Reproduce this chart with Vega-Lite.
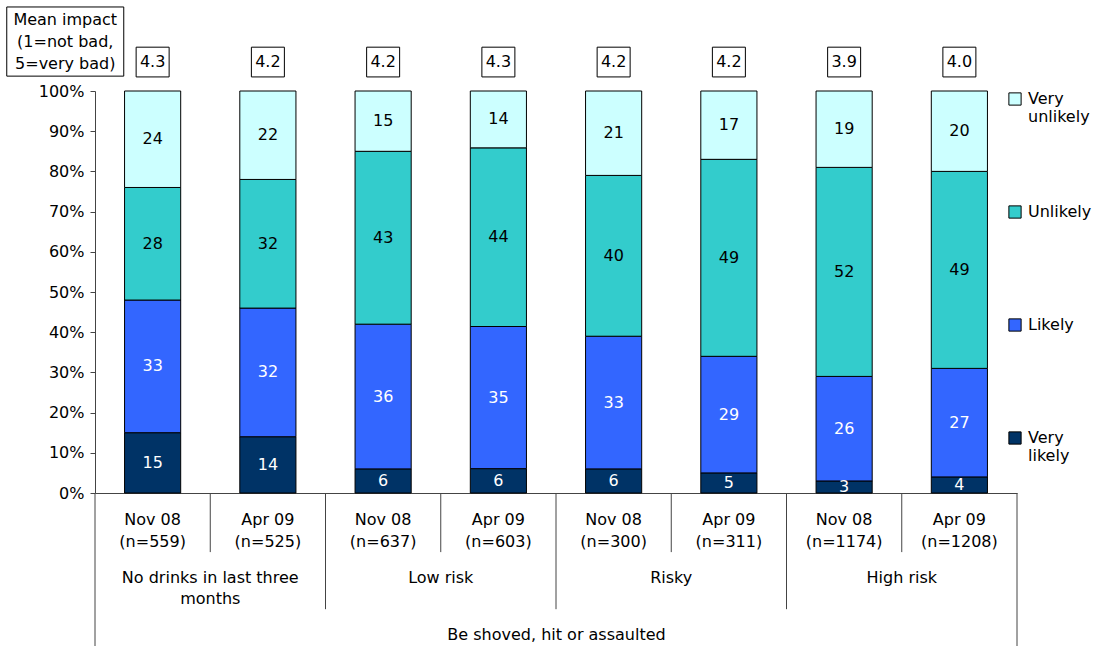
{
  "$schema": "https://vega.github.io/schema/vega-lite/v6.json",
  "width": 922,
  "height": 402,
  "autosize": {"type": "none"},
  "padding": {"left": 95, "top": 91, "right": 77, "bottom": 153},
  "background": "white",
  "config": {"font": "DejaVu Sans", "view": {"stroke": null}},
  "datasets": {
    "segs": [
      {"group": "No drinks in last three months", "period": "Nov 08", "cat": "Very likely", "ord": 1, "value": 15},
      {"group": "No drinks in last three months", "period": "Nov 08", "cat": "Likely", "ord": 2, "value": 33},
      {"group": "No drinks in last three months", "period": "Nov 08", "cat": "Unlikely", "ord": 3, "value": 28},
      {"group": "No drinks in last three months", "period": "Nov 08", "cat": "Very unlikely", "ord": 4, "value": 24},
      {"group": "No drinks in last three months", "period": "Apr 09", "cat": "Very likely", "ord": 1, "value": 14},
      {"group": "No drinks in last three months", "period": "Apr 09", "cat": "Likely", "ord": 2, "value": 32},
      {"group": "No drinks in last three months", "period": "Apr 09", "cat": "Unlikely", "ord": 3, "value": 32},
      {"group": "No drinks in last three months", "period": "Apr 09", "cat": "Very unlikely", "ord": 4, "value": 22},
      {"group": "Low risk", "period": "Nov 08", "cat": "Very likely", "ord": 1, "value": 6},
      {"group": "Low risk", "period": "Nov 08", "cat": "Likely", "ord": 2, "value": 36},
      {"group": "Low risk", "period": "Nov 08", "cat": "Unlikely", "ord": 3, "value": 43},
      {"group": "Low risk", "period": "Nov 08", "cat": "Very unlikely", "ord": 4, "value": 15},
      {"group": "Low risk", "period": "Apr 09", "cat": "Very likely", "ord": 1, "value": 6},
      {"group": "Low risk", "period": "Apr 09", "cat": "Likely", "ord": 2, "value": 35},
      {"group": "Low risk", "period": "Apr 09", "cat": "Unlikely", "ord": 3, "value": 44},
      {"group": "Low risk", "period": "Apr 09", "cat": "Very unlikely", "ord": 4, "value": 14},
      {"group": "Risky", "period": "Nov 08", "cat": "Very likely", "ord": 1, "value": 6},
      {"group": "Risky", "period": "Nov 08", "cat": "Likely", "ord": 2, "value": 33},
      {"group": "Risky", "period": "Nov 08", "cat": "Unlikely", "ord": 3, "value": 40},
      {"group": "Risky", "period": "Nov 08", "cat": "Very unlikely", "ord": 4, "value": 21},
      {"group": "Risky", "period": "Apr 09", "cat": "Very likely", "ord": 1, "value": 5},
      {"group": "Risky", "period": "Apr 09", "cat": "Likely", "ord": 2, "value": 29},
      {"group": "Risky", "period": "Apr 09", "cat": "Unlikely", "ord": 3, "value": 49},
      {"group": "Risky", "period": "Apr 09", "cat": "Very unlikely", "ord": 4, "value": 17},
      {"group": "High risk", "period": "Nov 08", "cat": "Very likely", "ord": 1, "value": 3},
      {"group": "High risk", "period": "Nov 08", "cat": "Likely", "ord": 2, "value": 26},
      {"group": "High risk", "period": "Nov 08", "cat": "Unlikely", "ord": 3, "value": 52},
      {"group": "High risk", "period": "Nov 08", "cat": "Very unlikely", "ord": 4, "value": 19},
      {"group": "High risk", "period": "Apr 09", "cat": "Very likely", "ord": 1, "value": 4},
      {"group": "High risk", "period": "Apr 09", "cat": "Likely", "ord": 2, "value": 27},
      {"group": "High risk", "period": "Apr 09", "cat": "Unlikely", "ord": 3, "value": 49},
      {"group": "High risk", "period": "Apr 09", "cat": "Very unlikely", "ord": 4, "value": 20}
    ],
    "bars": [
      {"group": "No drinks in last three months", "period": "Nov 08", "n": "(n=559)", "mean": "4.3"},
      {"group": "No drinks in last three months", "period": "Apr 09", "n": "(n=525)", "mean": "4.2"},
      {"group": "Low risk", "period": "Nov 08", "n": "(n=637)", "mean": "4.2"},
      {"group": "Low risk", "period": "Apr 09", "n": "(n=603)", "mean": "4.3"},
      {"group": "Risky", "period": "Nov 08", "n": "(n=300)", "mean": "4.2"},
      {"group": "Risky", "period": "Apr 09", "n": "(n=311)", "mean": "4.2"},
      {"group": "High risk", "period": "Nov 08", "n": "(n=1174)", "mean": "3.9"},
      {"group": "High risk", "period": "Apr 09", "n": "(n=1208)", "mean": "4.0"}
    ],
    "groups": [
      {"group": "No drinks in last three months"},
      {"group": "Low risk"},
      {"group": "Risky"},
      {"group": "High risk"}
    ]
  },
  "layer": [
    {
      "data": {"name": "segs"},
      "mark": {"type": "bar", "stroke": "black", "strokeWidth": 1},
      "encoding": {
        "x": {
          "field": "group", "type": "nominal",
          "sort": ["No drinks in last three months", "Low risk", "Risky", "High risk"],
          "scale": {"paddingInner": 0, "paddingOuter": 0},
          "axis": {
            "title": "Be shoved, hit or assaulted",
            "titleFontSize": 16, "titleFontWeight": "normal", "titleColor": "black", "titlePadding": 20,
            "ticks": false, "labelAngle": 0, "labelFontSize": 16, "labelColor": "black",
            "labelPadding": 76, "labelLineHeight": 21,
            "labelExpr": "datum.value == 'No drinks in last three months' ? ['No drinks in last three', 'months'] : datum.value",
            "domainColor": "#444", "domainWidth": 1
          }
        },
        "xOffset": {
          "field": "period", "type": "nominal", "sort": ["Nov 08", "Apr 09"],
          "scale": {"paddingInner": 0.513, "paddingOuter": 0.2565}
        },
        "y": {
          "field": "value", "type": "quantitative", "stack": "normalize",
          "scale": {"domain": [0, 1]},
          "axis": {
            "title": null, "format": ".0%", "values": [0, 0.1, 0.2, 0.3, 0.4, 0.5, 0.6, 0.7, 0.8, 0.9, 1],
            "grid": false, "tickSize": 5, "labelFontSize": 16, "labelColor": "black", "labelPadding": 6,
            "domainColor": "#444", "tickColor": "#444"
          }
        },
        "color": {
          "field": "cat", "type": "nominal",
          "scale": {
            "domain": ["Very unlikely", "Unlikely", "Likely", "Very likely"],
            "range": ["#CCFFFF", "#33CCCC", "#3366FF", "#003366"]
          },
          "legend": {
            "title": null, "orient": "none", "legendX": 912, "legendY": 0,
            "symbolType": "square", "symbolSize": 150, "symbolStrokeColor": "black", "symbolStrokeWidth": 1,
            "symbolOpacity": 1,
            "labelFontSize": 16, "labelColor": "black", "labelLimit": 200, "labelLineHeight": 20,
            "labelExpr": "datum.label == 'Very unlikely' ? ['Very', 'unlikely'] : datum.label == 'Very likely' ? ['Very', 'likely'] : [datum.label, ' ']",
            "rowPadding": 78, "labelOffset": 5
          }
        },
        "order": {"field": "ord", "type": "quantitative"}
      }
    },
    {
      "data": {"name": "segs"},
      "mark": {"type": "text", "fontSize": 16, "baseline": "middle"},
      "encoding": {
        "x": {"field": "group", "type": "nominal", "sort": ["No drinks in last three months", "Low risk", "Risky", "High risk"]},
        "xOffset": {"field": "period", "type": "nominal", "sort": ["Nov 08", "Apr 09"]},
        "y": {"field": "value", "type": "quantitative", "stack": "normalize", "bandPosition": 0.5},
        "order": {"field": "ord", "type": "quantitative"},
        "text": {"field": "value", "type": "quantitative"},
        "color": {
          "condition": {"test": "datum.cat == 'Likely' || datum.cat == 'Very likely'", "value": "white"},
          "value": "black"
        }
      }
    },
    {
      "data": {"name": "bars"},
      "mark": {"type": "bar", "width": 33, "fill": "white", "stroke": "black", "strokeWidth": 1},
      "encoding": {
        "x": {"field": "group", "type": "nominal", "sort": ["No drinks in last three months", "Low risk", "Risky", "High risk"]},
        "xOffset": {"field": "period", "type": "nominal", "sort": ["Nov 08", "Apr 09"]},
        "y": {"datum": 1.035},
        "y2": {"datum": 1.109}
      }
    },
    {
      "data": {"name": "bars"},
      "mark": {"type": "text", "fontSize": 16, "baseline": "middle", "color": "black"},
      "encoding": {
        "x": {"field": "group", "type": "nominal", "sort": ["No drinks in last three months", "Low risk", "Risky", "High risk"]},
        "xOffset": {"field": "period", "type": "nominal", "sort": ["Nov 08", "Apr 09"]},
        "y": {"datum": 1.072},
        "text": {"field": "mean"}
      }
    },
    {
      "data": {"name": "bars"},
      "mark": {"type": "text", "fontSize": 16, "baseline": "middle", "color": "black"},
      "encoding": {
        "x": {"field": "group", "type": "nominal", "sort": ["No drinks in last three months", "Low risk", "Risky", "High risk"]},
        "xOffset": {"field": "period", "type": "nominal", "sort": ["Nov 08", "Apr 09"]},
        "y": {"datum": -0.0672},
        "text": {"field": "period"}
      }
    },
    {
      "data": {"name": "bars"},
      "mark": {"type": "text", "fontSize": 16, "baseline": "middle", "color": "black"},
      "encoding": {
        "x": {"field": "group", "type": "nominal", "sort": ["No drinks in last three months", "Low risk", "Risky", "High risk"]},
        "xOffset": {"field": "period", "type": "nominal", "sort": ["Nov 08", "Apr 09"]},
        "y": {"datum": -0.1219},
        "text": {"field": "n"}
      }
    },
    {
      "data": {"name": "groups"},
      "mark": {"type": "rule", "color": "#444", "strokeWidth": 1},
      "encoding": {
        "x": {"field": "group", "type": "nominal", "sort": ["No drinks in last three months", "Low risk", "Risky", "High risk"]},
        "y": {"datum": 0},
        "y2": {"datum": -0.147}
      }
    },
    {
      "data": {"name": "groups"},
      "transform": [{"filter": "datum.group != 'No drinks in last three months'"}],
      "mark": {"type": "rule", "color": "#444", "strokeWidth": 1},
      "encoding": {
        "x": {"field": "group", "type": "nominal", "bandPosition": 0, "sort": ["No drinks in last three months", "Low risk", "Risky", "High risk"]},
        "y": {"datum": 0},
        "y2": {"datum": -0.289}
      }
    },
    {
      "data": {"name": "groups"},
      "transform": [{"filter": "datum.group == 'No drinks in last three months'"}],
      "mark": {"type": "rule", "color": "#444", "strokeWidth": 1},
      "encoding": {
        "x": {"field": "group", "type": "nominal", "bandPosition": 0, "sort": ["No drinks in last three months", "Low risk", "Risky", "High risk"]},
        "y": {"datum": 0},
        "y2": {"datum": -0.39}
      }
    },
    {
      "data": {"name": "groups"},
      "transform": [{"filter": "datum.group == 'High risk'"}],
      "mark": {"type": "rule", "color": "#444", "strokeWidth": 1},
      "encoding": {
        "x": {"field": "group", "type": "nominal", "bandPosition": 1, "sort": ["No drinks in last three months", "Low risk", "Risky", "High risk"]},
        "y": {"datum": 0},
        "y2": {"datum": -0.39}
      }
    },
    {
      "data": {"values": [{"label": "Mean impact"}]},
      "mark": {"type": "bar", "width": 117, "xOffset": -145, "fill": "white", "stroke": "black", "strokeWidth": 1},
      "encoding": {
        "x": {"datum": "No drinks in last three months"},
        "y": {"datum": 1.037},
        "y2": {"datum": 1.209}
      }
    },
    {
      "data": {"values": [{"label": "Mean impact"}]},
      "mark": {"type": "text", "fontSize": 16, "baseline": "middle", "color": "black", "dx": -145, "lineHeight": 22,
        "text": ["Mean impact", "(1=not bad,", "5=very bad)"]},
      "encoding": {
        "x": {"datum": "No drinks in last three months"},
        "y": {"datum": 1.1766}
      }
    }
  ]
}
